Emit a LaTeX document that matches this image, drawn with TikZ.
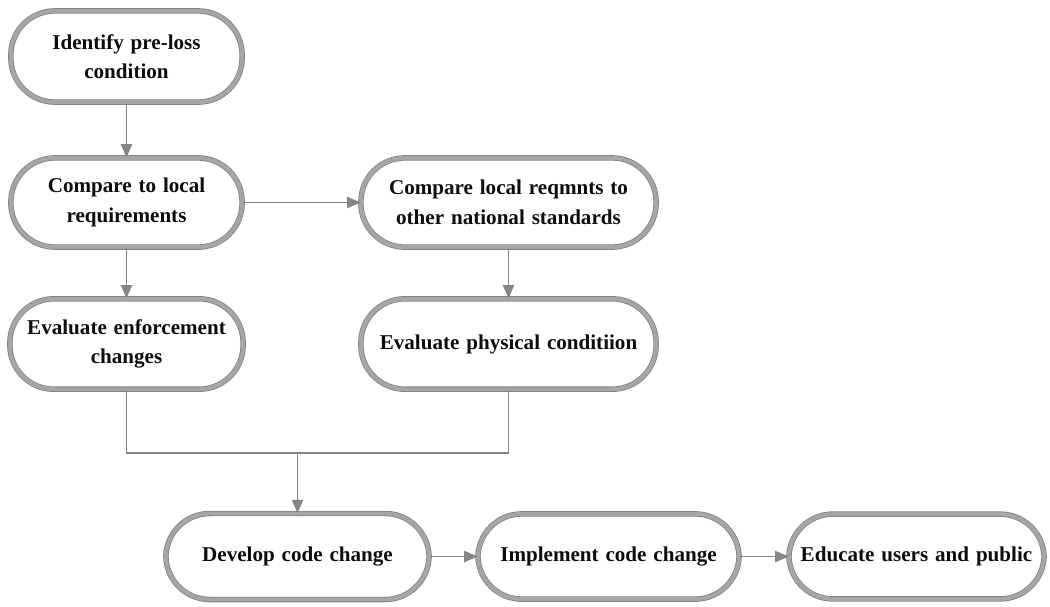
\documentclass[tikz,border=0pt]{standalone}
\usepackage{fontspec}
\setmainfont{Liberation Serif}[WordSpace=1.3]
\usetikzlibrary{arrows.meta}
\definecolor{FlowEdge}{HTML}{808080}
\definecolor{FlowRing}{HTML}{A6A6A6}
\definecolor{FlowLink}{HTML}{858585}
\definecolor{FlowText}{HTML}{0D0D0D}

\begin{document}
\begin{tikzpicture}[x=0.025cm,y=-0.025cm,
  stepbox/.style={draw=FlowEdge,line width=0.55pt,double=FlowRing,double distance=2.8pt,
    fill=white,text=FlowText,rounded corners=1.1cm,align=center,inner sep=0pt,
    font=\fontsize{15}{21}\selectfont\bfseries},
  link/.style={draw=FlowLink,line width=1.1pt},
  linkarrow/.style={link,-{Triangle[length=9.5pt,width=8pt]}}]
  \useasboundingbox (0,0) rectangle (1050,606);
  % top part
  \node[stepbox,minimum width=5.78cm,minimum height=2.28cm] (preloss) at (126.5,56.5) {Identify pre-loss\\condition};
  \node[stepbox,minimum width=5.78cm,minimum height=2.23cm] (locreq) at (126.5,202.5) {Compare to local\\requirements};
  \node[stepbox,minimum width=7.38cm,minimum height=2.23cm] (natstd) at (508.5,202.5) {Compare local reqmnts to\\other national standards};
  \node[stepbox,minimum width=5.83cm,minimum height=2.26cm] (enforce) at (126.5,344) {Evaluate enforcement\\changes};
  \node[stepbox,minimum width=7.38cm,minimum height=2.26cm] (physcond) at (508.5,344) {Evaluate physical conditiion};
  % bottom row
  \node[stepbox,minimum width=6.58cm,minimum height=2.15cm] (develop) at (297.5,556.5) {Develop code change};
  \node[stepbox,minimum width=6.53cm,minimum height=2.13cm] (implement) at (608.5,556.5) {Implement code change};
  \node[stepbox,minimum width=6.38cm,minimum height=2.12cm] (educate) at (916.5,556.5) {Educate users and public};
  \coordinate (merge) at (297.5,453);
  % connectors
  \draw[linkarrow] (preloss) -- (locreq);
  \draw[linkarrow] (locreq) -- (natstd);
  \draw[linkarrow] (locreq) -- (enforce);
  \draw[linkarrow] (natstd) -- (physcond);
  \draw[link] (enforce.south) |- (merge);
  \draw[link] (physcond.south) |- (merge);
  \draw[linkarrow] (merge) -- (develop.north);
  \draw[linkarrow] (develop) -- (implement);
  \draw[linkarrow] (implement) -- (educate);
\end{tikzpicture}
\end{document}
